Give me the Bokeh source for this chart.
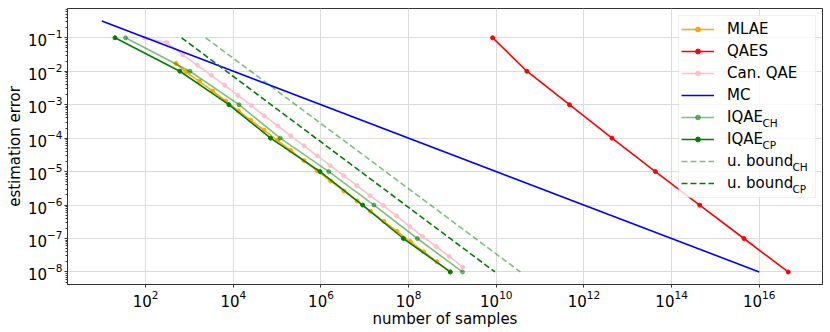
import math
from bokeh.plotting import figure
from bokeh.models import Range1d, FixedTicker, Legend, LegendItem, Label, BoxAnnotation
from bokeh.embed import file_html
from bokeh.resources import INLINE

# ---------------- data ----------------
eps = [1e-1, 1e-2, 1e-3, 1e-4, 1e-5, 1e-6, 1e-7, 1e-8]

mlae_n = [492, 832, 1683, 3388, 6699, 1.306e4, 2.495e4, 5.023e4, 1.009e5, 2.032e5,
          4.083e5, 8.222e5, 1.652e6, 3.327e6, 6.683e6, 1.346e7, 2.704e7, 5.445e7,
          1.094e8, 2.203e8, 4.426e8, 8.913e8]
mlae_err = [1.714e-2, 9.44e-3, 4.99e-3, 2.56e-3, 1.29e-3, 6.52e-4, 3.44e-4, 1.73e-4,
            8.61e-5, 4.30e-5, 2.14e-5, 1.06e-5, 5.30e-6, 2.64e-6, 1.32e-6, 6.55e-7,
            3.26e-7, 1.63e-7, 8.09e-8, 4.03e-8, 2.01e-8, 1.0e-8]

qaes_n = [8.24e9, 5.0e10, 4.68e11, 4.37e12, 4.27e13, 4.37e14, 4.47e15, 4.57e16]
qaes_err = eps

canqae_n = [94.8, 301, 700, 1514, 3162, 6368, 1.279e4, 2.588e4, 5.129e4, 1.033e5,
            2.046e5, 4.111e5, 8.241e5, 1.648e6, 3.319e6, 6.637e6, 1.321e7, 2.673e7,
            5.297e7, 1.064e8, 2.075e8, 4.246e8, 8.414e8, 1.702e9]
canqae_err = [9.86e-2, 7.24e-2, 3.12e-2, 1.50e-2, 7.53e-3, 3.79e-3, 1.91e-3, 9.42e-4,
              4.62e-4, 2.33e-4, 1.17e-4, 5.90e-5, 2.97e-5, 1.50e-5, 7.53e-6, 3.79e-6,
              1.91e-6, 9.64e-7, 4.75e-7, 2.28e-7, 1.15e-7, 5.78e-8, 2.91e-8, 1.41e-8]

mc_n = [10, 1e16]
mc_err = [0.316, 1e-8]

iqae_ch_n = [34.7, 1023, 1.349e4, 1.175e5, 1.51e6, 1.62e7, 1.585e8, 1.70e9]
iqae_cp_n = [20, 603, 7943, 7.08e4, 9.55e5, 8.91e6, 7.59e7, 8.91e8]
iqae_err = eps

ub_ch_n = [2344, 3.55e10]
ub_cp_n = [661, 9.33e9]
ub_err = [1e-1, 1e-8]

x_ticks = [1e2, 1e4, 1e6, 1e8, 1e10, 1e12, 1e14, 1e16]
y_ticks = [1e-8, 1e-7, 1e-6, 1e-5, 1e-4, 1e-3, 1e-2, 1e-1]
y_minor = [k * 10.0 ** e for e in range(-9, 0) for k in range(2, 10)]

x_label = "number of samples"
y_label = "estimation error"

# ---------------- figure ----------------
W, H = 830, 332
BL, BR, BT, BB = 67, 8, 8, 48          # borders around the frame
FW, FH = W - BL - BR, H - BT - BB       # frame size
X0, X1 = 1.648, 2.773e17
Y0, Y1 = 4.217e-9, 0.75
FONT = "DejaVu Sans"
p = figure(width=W, height=H, x_axis_type="log", y_axis_type="log",
           x_range=Range1d(X0, X1), y_range=Range1d(Y0, Y1),
           output_backend="svg", toolbar_location=None,
           min_border_left=BL, min_border_right=BR, min_border_top=BT, min_border_bottom=BB)
p.background_fill_color = "white"
p.border_fill_color = "white"
p.outline_line_color = "#333333"
p.outline_line_width = 1

p.xaxis.ticker = FixedTicker(ticks=x_ticks, minor_ticks=[])
p.yaxis.ticker = FixedTicker(ticks=y_ticks, minor_ticks=y_minor)
for ax in (p.xaxis, p.yaxis):
    ax.axis_line_color = "#333333"
    ax.major_tick_line_color = "#333333"
    ax.minor_tick_line_color = "#333333"
    ax.major_tick_in = 0
    ax.major_tick_out = 3
    ax.minor_tick_in = 0
    ax.minor_tick_out = 2
    ax.major_label_text_font = FONT
    ax.major_label_text_font_size = "15px"
    ax.major_label_text_color = "black"
    ax.major_label_standoff = 2
    ax.axis_label_text_font = FONT
    ax.axis_label_text_font_size = "15px"
    ax.axis_label_text_font_style = "normal"
    ax.axis_label_text_color = "black"
p.xaxis.axis_label = x_label
p.yaxis.axis_label = y_label
p.xaxis.axis_label_standoff = 0
p.yaxis.axis_label_standoff = 1

p.grid.grid_line_color = "#dcdcdc"
p.grid.grid_line_width = 1

LW = 1.6
MS = 4

r_mlae_l = p.line(mlae_n, mlae_err, line_color="orange", line_width=LW)
r_mlae_s = p.scatter(mlae_n, mlae_err, size=MS, color="orange")
r_qaes_l = p.line(qaes_n, qaes_err, line_color="red", line_width=LW)
r_qaes_s = p.scatter(qaes_n, qaes_err, size=MS, color="red")
r_can_l = p.line(canqae_n, canqae_err, line_color="pink", line_width=LW)
r_can_s = p.scatter(canqae_n, canqae_err, size=MS, color="pink")
r_mc = p.line(mc_n, mc_err, line_color="blue", line_width=LW)
r_ch_l = p.line(iqae_ch_n, iqae_err, line_color="green", line_alpha=0.5, line_width=LW)
r_ch_s = p.scatter(iqae_ch_n, iqae_err, size=MS, color="green", alpha=0.5)
r_cp_l = p.line(iqae_cp_n, iqae_err, line_color="green", line_width=LW)
r_cp_s = p.scatter(iqae_cp_n, iqae_err, size=MS, color="green")
r_ubch = p.line(ub_ch_n, ub_err, line_color="green", line_alpha=0.5, line_width=LW, line_dash="6 3")
r_ubcp = p.line(ub_cp_n, ub_err, line_color="green", line_width=LW, line_dash="6 3")

labels = ["MLAE", "QAES", "Can. QAE", "MC", "IQAE", "IQAE", "u. bound", "u. bound"]
rends = [[r_mlae_l, r_mlae_s], [r_qaes_l, r_qaes_s], [r_can_l, r_can_s], [r_mc],
         [r_ch_l, r_ch_s], [r_cp_l, r_cp_s], [r_ubch], [r_ubcp]]
subs = {4: ("CH", 35.0), 5: ("CP", 35.0), 6: ("CH", 65.0), 7: ("CP", 65.0)}

PAD, GW, GH, STAND, LWID, LH, SP, MARG = 3, 33, 12, 13, 85, 22, 0, 7
leg_w = 2 * PAD + GW + STAND + LWID
leg_h = 2 * PAD + len(labels) * LH + (len(labels) - 1) * SP


# legend background box (frame pixel -> data coordinates through the log ranges)
def fx(px):
    a, b = math.log10(X0), math.log10(X1)
    return 10 ** (a + px / FW * (b - a))


def fy(py):
    a, b = math.log10(Y0), math.log10(Y1)
    return 10 ** (a + py / FH * (b - a))


box = BoxAnnotation(left=fx(FW - MARG - leg_w), right=fx(FW - MARG),
                    top=fy(FH - MARG), bottom=fy(FH - MARG - leg_h),
                    fill_color="white", fill_alpha=0.8, line_color="#cccccc",
                    line_width=1, level="glyph")
p.add_layout(box)

legend = Legend(items=[LegendItem(label=l, renderers=r) for l, r in zip(labels, rends)],
                location="top_right", margin=MARG, padding=PAD, spacing=SP,
                glyph_width=GW, glyph_height=GH, label_height=LH, label_width=LWID,
                label_standoff=STAND, label_text_font=FONT, label_text_font_size="15px",
                label_text_color="black", border_line_alpha=0,
                background_fill_alpha=0)
p.add_layout(legend)

# subscripts for legend labels (frame-relative screen units, y upward)
text_x0 = FW - MARG - leg_w + PAD + GW + STAND
for i, (s, dx) in subs.items():
    cy = MARG + PAD + LH / 2 + i * (LH + SP)      # row centre, downward from frame top
    base = cy + 5.5
    p.add_layout(Label(x=text_x0 + dx, y=FH - base, x_units="screen", y_units="screen",
                       text=s, text_font=FONT, text_font_size="10.5px", level="overlay",
                       text_baseline="alphabetic", text_align="left", text_color="black"))

open("out.html", "w").write(file_html(p, INLINE))
